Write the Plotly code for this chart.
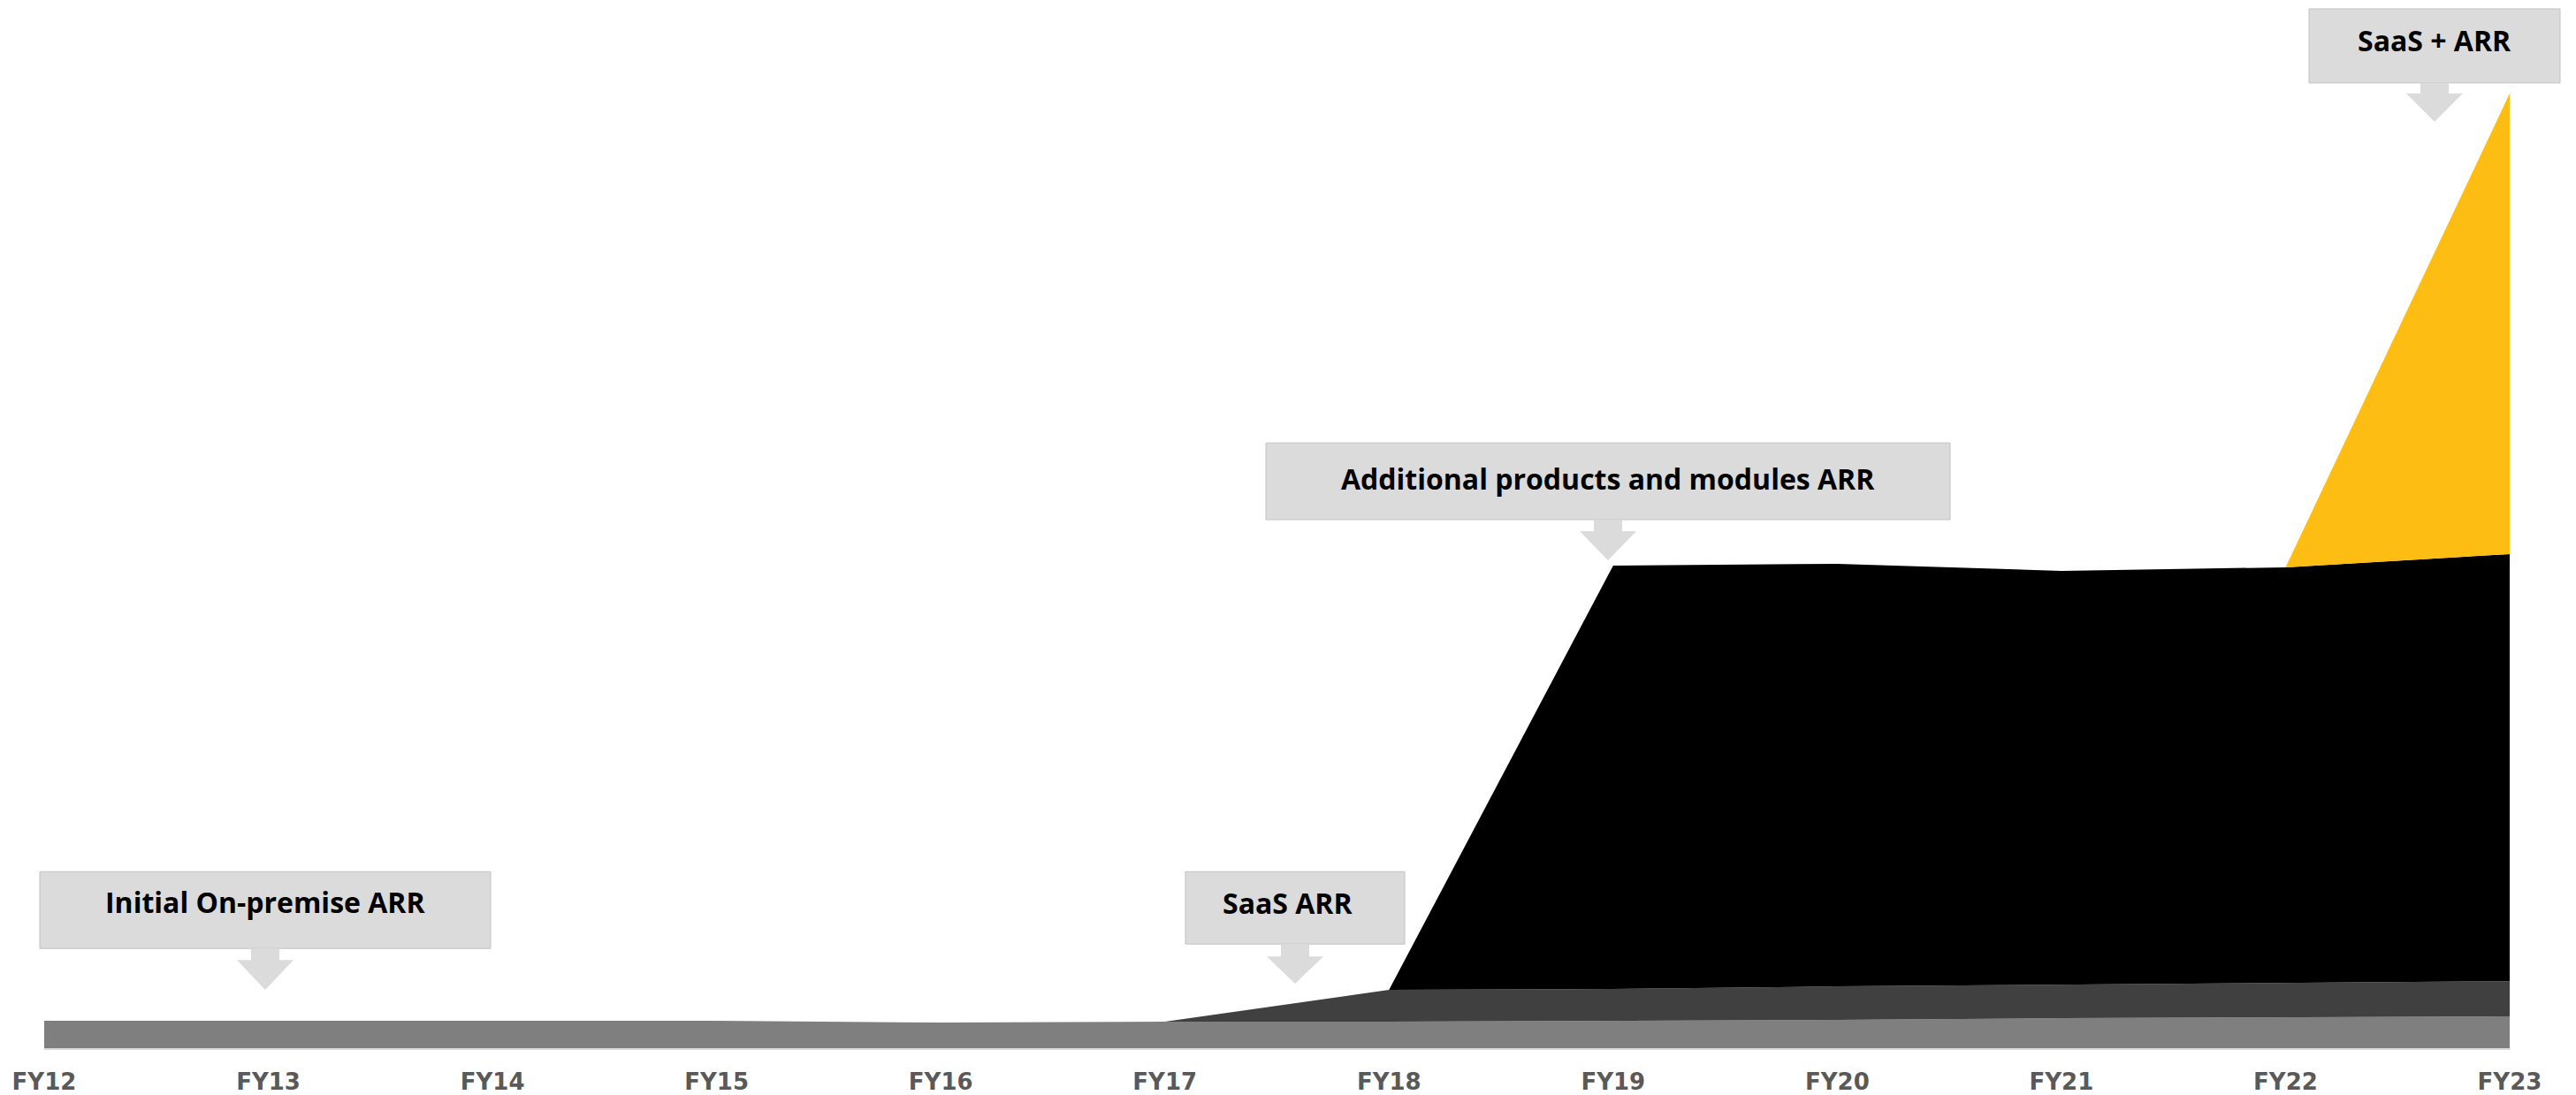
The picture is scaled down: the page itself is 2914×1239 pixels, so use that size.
import plotly.graph_objects as go

# Fiscal years on the x axis
years = ["FY12", "FY13", "FY14", "FY15", "FY16", "FY17",
         "FY18", "FY19", "FY20", "FY21", "FY22", "FY23"]

# ARR by stream (stacked, arbitrary units)
on_premise_arr = [3.1, 3.1, 3.1, 3.1, 2.9, 3.0, 3.0, 3.1, 3.2, 3.4, 3.5, 3.6]
saas_arr = [0, 0, 0, 0, 0, 0, 3.6, 3.6, 3.8, 3.8, 3.9, 4.0]
additional_arr = [0, 0, 0, 0, 0, 0, 0, 48.0, 47.9, 46.9, 47.1, 48.4]
saas_plus_arr = [0, 0, 0, 0, 0, 0, 0, 0, 0, 0, 0, 52.2]

series = [
    ("Initial On-premise ARR", on_premise_arr, "#7F7F7F"),
    ("SaaS ARR", saas_arr, "#404040"),
    ("Additional products and modules ARR", additional_arr, "#000000"),
    ("SaaS + ARR", saas_plus_arr, "#FDBD13"),
]

# Page geometry (pixels)
W, H = 2914, 1239
ML, MR, MT, MB = 50, 75, 0, 51
PW = W - ML - MR
PH = H - MT - MB

x_idx = list(range(len(years)))

fig = go.Figure()
for name, vals, color in series:
    fig.add_trace(go.Scatter(
        x=x_idx, y=vals, name=name, mode="lines",
        stackgroup="arr", line=dict(width=0, color=color),
        fillcolor=color, hoverinfo="skip",
    ))


def px_x(px):
    return (px - ML) / PW


def px_y(py):
    return (H - MB - py) / PH


# Callout boxes: label, box extents, text centre, arrow geometry
callouts = [
    dict(text="Initial On-premise ARR", x0=45, x1=555, y0=988, y1=1075,
         tx=300, ty=1022, ax=300, stem=1075, head=1088, tip=1122),
    dict(text="SaaS ARR", x0=1341, x1=1589, y0=988, y1=1070,
         tx=1456, ty=1023, ax=1465, stem=1070, head=1084, tip=1115),
    dict(text="Additional products and modules ARR", x0=1432, x1=2206, y0=502, y1=589,
         tx=1819, ty=542, ax=1819, stem=589, head=602, tip=635),
    dict(text="SaaS + ARR", x0=2612, x1=2896, y0=10, y1=94,
         tx=2754, ty=46, ax=2754, stem=94, head=106, tip=138),
]

BOX_FILL = "#DBDBDB"
STEM_HALF, HEAD_HALF = 16, 32

shapes = []
annotations = []
for c in callouts:
    shapes.append(dict(
        type="rect", xref="paper", yref="paper",
        x0=px_x(c["x0"]), x1=px_x(c["x1"]),
        y0=px_y(c["y1"]), y1=px_y(c["y0"]),
        fillcolor=BOX_FILL, line=dict(color="#C2C2C2", width=1),
        layer="above",
    ))
    a = c["ax"]
    pts = [
        (a - STEM_HALF, c["stem"]), (a + STEM_HALF, c["stem"]),
        (a + STEM_HALF, c["head"]), (a + HEAD_HALF, c["head"]),
        (a, c["tip"]), (a - HEAD_HALF, c["head"]),
        (a - STEM_HALF, c["head"]),
    ]
    path = "M " + " L ".join(f"{px_x(px):.6f},{px_y(py):.6f}" for px, py in pts) + " Z"
    shapes.append(dict(
        type="path", xref="paper", yref="paper", path=path,
        fillcolor=BOX_FILL, line=dict(width=0), layer="above",
    ))
    annotations.append(dict(
        text=c["text"], xref="paper", yref="paper",
        x=px_x(c["tx"]), y=px_y(c["ty"]),
        xanchor="center", yanchor="middle", showarrow=False,
        font=dict(family="Open Sans", size=32, color="#000000", weight="bold"),
    ))

fig.update_layout(
    width=W, height=H,
    margin=dict(l=ML, r=MR, t=MT, b=MB, pad=0),
    paper_bgcolor="white", plot_bgcolor="white",
    showlegend=False,
    shapes=shapes, annotations=annotations,
    xaxis=dict(
        range=[0, len(years) - 1], tickvals=x_idx, ticktext=years,
        showgrid=False, zeroline=False, ticks="",
        showline=True, linecolor="#D9D9D9", linewidth=2,
        tickfont=dict(family="DejaVu Sans", size=26, color="#595959", weight="bold"),
        ticklabelstandoff=14, fixedrange=True,
    ),
    yaxis=dict(range=[0, PH / 10], visible=False, showgrid=False,
               zeroline=False, fixedrange=True),
)

fig.write_html("out.html", config={"displayModeBar": False, "staticPlot": True})
